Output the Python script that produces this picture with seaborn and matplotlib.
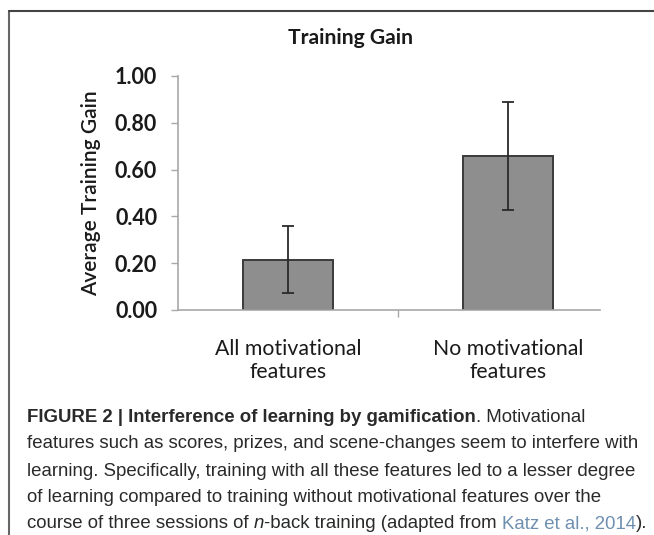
import matplotlib
matplotlib.use("Agg")
import matplotlib.pyplot as plt
import seaborn as sns
import pandas as pd
from matplotlib.lines import Line2D

categories = ["All motivational\nfeatures", "No motivational\nfeatures"]
gain = [0.215, 0.659]
err = [0.143, 0.23]
yticks = [0.0, 0.2, 0.4, 0.6, 0.8, 1.0]
title = "Training Gain"
ylabel = "Average Training Gain"

sns.set_theme(style="white")
plt.rcParams["font.family"] = ["Lato", "DejaVu Sans"]

W, H = 654, 535
fig = plt.figure(figsize=(W / 100, H / 100), dpi=100)
ax = fig.add_axes([178 / W, 1 - 310 / H, (600 - 178) / W, (310 - 76) / H])

df = pd.DataFrame({"cat": categories, "gain": gain})
sns.barplot(data=df, x="cat", y="gain", ax=ax, color="#8e8e8e", width=0.41,
            edgecolor="#3a3a3a", linewidth=1.4, saturation=1, errorbar=None)
ax.errorbar(range(len(gain)), gain, yerr=err, fmt="none", ecolor="#2a2a2a",
            elinewidth=1.3, capsize=4.5, capthick=1.3)

ax.set_xlim(-0.5, 1.418)
ax.set_ylim(0, 1.0)
ax.set_yticks(yticks)
ax.set_yticklabels([f"{v:.2f}" for v in yticks], fontsize=15.5, fontweight="bold", color="#1a1a1a")
ax.set_xticks([0, 1])
ax.set_xticklabels(categories, fontsize=15.3, color="#1a1a1a", linespacing=1.2)
ax.set_xticks([0.5], minor=True)
ax.tick_params(axis="x", which="major", length=0, pad=21)
ax.tick_params(axis="x", which="minor", length=5, width=1, color="#a8a8a8", direction="out", bottom=True)
ax.tick_params(axis="y", length=5, width=1, color="#a8a8a8", direction="out", left=True, pad=10)
ax.set_xlabel("")
ax.set_ylabel(ylabel, fontsize=15, fontweight="semibold", color="#1a1a1a", labelpad=10)
for s in ["top", "right"]:
    ax.spines[s].set_visible(False)
for s in ["left", "bottom"]:
    ax.spines[s].set_color("#a8a8a8")
    ax.spines[s].set_linewidth(1.2)

fig.text(350 / W, 1 - 38 / H, title, ha="center", va="center", fontsize=15.2, fontweight="bold", color="#1a1a1a")

# frame lines
fig.add_artist(Line2D([9 / W, 9 / W], [0, 1 - 11 / H], transform=fig.transFigure, color="#666666", lw=1.5))
fig.add_artist(Line2D([9 / W, 1], [1 - 11 / H, 1 - 11 / H], transform=fig.transFigure, color="#444444", lw=1.5))

# caption
cap_family = ["Liberation Sans", "DejaVu Sans"]
cap_size = 13.4
lines = [
    [("FIGURE 2 | Interference of learning by gamification", {"fontweight": "bold"}),
     (". Motivational", {})],
    [("features such as scores, prizes, and scene-changes seem to interfere with", {})],
    [("learning. Specifically, training with all these features led to a lesser degree", {})],
    [("of learning compared to training without motivational features over the", {})],
    [("course of three sessions of ", {}), ("n", {"fontstyle": "italic"}),
     ("-back training (adapted from ", {}), ("Katz et al., 2014", {"color": "#6f8fb0"}), (").", {})],
]
ys = [417, 444, 471, 498, 524]
renderer = fig.canvas.get_renderer()
for segs, yy in zip(lines, ys):
    x = 27.0
    for txt, props in segs:
        kw = dict(fontsize=cap_size, family=cap_family, color="#2a2a2a", va="center", ha="left")
        kw.update(props)
        t = fig.text(x / W, 1 - yy / H, txt, **kw)
        bb = t.get_window_extent(renderer=renderer)
        x += bb.width

fig.savefig("out.png", dpi=100)
